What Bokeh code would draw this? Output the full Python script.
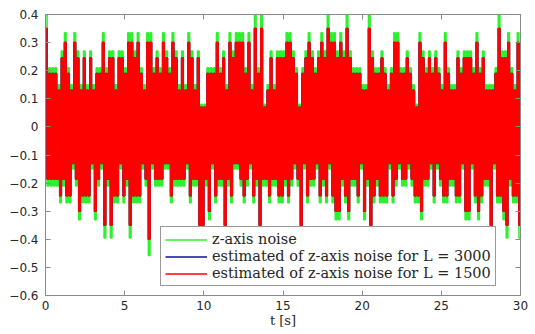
from bokeh.plotting import figure
from bokeh.models import Range1d, LinearAxis, FixedTicker, Legend, LegendItem, ColumnDataSource
from bokeh.embed import file_html
from bokeh.resources import INLINE

# sample spacing of the read-off columns (s)
DT = 0.2

# z-axis noise: upper / lower excursion in each 0.2 s column
green_top = [
    0.40, 0.21, 0.21, 0.21, 0.15, 0.27, 0.335, 0.21, 0.15, 0.335,
    0.27, 0.15, 0.27, 0.15, 0.27, 0.15, 0.21, 0.21, 0.335, 0.21,
    0.27, 0.27, 0.15, 0.27, 0.27, 0.21, 0.335, 0.335, 0.27, 0.335,
    0.21, 0.15, 0.335, 0.335, 0.21, 0.27, 0.21, 0.335, 0.27, 0.21,
    0.335, 0.27, 0.15, 0.27, 0.15, 0.335, 0.27, 0.15, 0.27, 0.08,
    0.08, 0.21, 0.21, 0.21, 0.335, 0.21, 0.27, 0.15, 0.335, 0.27,
    0.335, 0.335, 0.335, 0.21, 0.335, 0.15, 0.40, 0.21, 0.40, 0.08,
    0.15, 0.27, 0.15, 0.27, 0.27, 0.27, 0.335, 0.335, 0.27, 0.21,
    0.08, 0.21, 0.27, 0.335, 0.27, 0.21, 0.27, 0.335, 0.27, 0.40,
    0.335, 0.335, 0.27, 0.335, 0.27, 0.40, 0.27, 0.21, 0.21, 0.21,
    0.15, 0.15, 0.40, 0.27, 0.21, 0.21, 0.27, 0.21, 0.15, 0.21,
    0.335, 0.335, 0.21, 0.21, 0.27, 0.21, 0.15, 0.08, 0.335, 0.27,
    0.21, 0.27, 0.21, 0.27, 0.21, 0.15, 0.335, 0.21, 0.15, 0.15,
    0.27, 0.21, 0.27, 0.27, 0.27, 0.21, 0.335, 0.21, 0.27, 0.15,
    0.15, 0.15, 0.21, 0.40, 0.27, 0.27, 0.335, 0.21, 0.15, 0.335,
]
green_bot = [
    -0.21, -0.21, -0.21, -0.21, -0.27, -0.21, -0.27, -0.27, -0.15, -0.21,
    -0.33, -0.27, -0.27, -0.27, -0.15, -0.33, -0.21, -0.15, -0.395, -0.21,
    -0.395, -0.27, -0.27, -0.15, -0.27, -0.21, -0.395, -0.27, -0.27, -0.27,
    -0.15, -0.21, -0.4575, -0.15, -0.21, -0.21, -0.21, -0.15, -0.15, -0.27,
    -0.21, -0.21, -0.21, -0.21, -0.15, -0.27, -0.21, -0.21, -0.395, -0.395,
    -0.21, -0.33, -0.15, -0.27, -0.21, -0.21, -0.395, -0.21, -0.27, -0.15,
    -0.15, -0.21, -0.27, -0.21, -0.15, -0.27, -0.21, -0.395, -0.21, -0.21,
    -0.27, -0.21, -0.21, -0.27, -0.27, -0.21, -0.27, -0.21, -0.15, -0.21,
    -0.395, -0.15, -0.27, -0.21, -0.21, -0.15, -0.27, -0.21, -0.27, -0.15,
    -0.27, -0.33, -0.33, -0.21, -0.27, -0.33, -0.21, -0.21, -0.27, -0.15,
    -0.33, -0.21, -0.395, -0.27, -0.21, -0.27, -0.27, -0.27, -0.15, -0.27,
    -0.21, -0.15, -0.21, -0.21, -0.15, -0.21, -0.27, -0.27, -0.33, -0.21,
    -0.21, -0.15, -0.27, -0.15, -0.21, -0.27, -0.27, -0.21, -0.21, -0.27,
    -0.27, -0.15, -0.33, -0.33, -0.15, -0.27, -0.33, -0.27, -0.21, -0.21,
    -0.395, -0.15, -0.27, -0.27, -0.33, -0.395, -0.21, -0.27, -0.27, -0.395,
]

# estimated noise for L = 1500 (red)
red_top = [
    0.35, 0.19, 0.19, 0.19, 0.13, 0.245, 0.30, 0.19, 0.13, 0.30,
    0.245, 0.13, 0.245, 0.13, 0.245, 0.13, 0.19, 0.19, 0.30, 0.19,
    0.245, 0.245, 0.13, 0.245, 0.245, 0.19, 0.30, 0.30, 0.245, 0.30,
    0.19, 0.13, 0.30, 0.30, 0.19, 0.245, 0.19, 0.30, 0.245, 0.19,
    0.30, 0.245, 0.13, 0.245, 0.13, 0.30, 0.245, 0.13, 0.245, 0.07,
    0.07, 0.19, 0.19, 0.19, 0.30, 0.19, 0.245, 0.13, 0.30, 0.245,
    0.30, 0.30, 0.30, 0.19, 0.30, 0.13, 0.35, 0.19, 0.35, 0.07,
    0.13, 0.245, 0.13, 0.245, 0.245, 0.245, 0.30, 0.30, 0.245, 0.19,
    0.07, 0.19, 0.245, 0.30, 0.245, 0.19, 0.245, 0.30, 0.245, 0.35,
    0.30, 0.30, 0.245, 0.30, 0.245, 0.35, 0.245, 0.19, 0.19, 0.19,
    0.13, 0.13, 0.35, 0.245, 0.19, 0.19, 0.245, 0.19, 0.13, 0.19,
    0.30, 0.30, 0.19, 0.19, 0.245, 0.19, 0.13, 0.07, 0.30, 0.245,
    0.19, 0.245, 0.19, 0.245, 0.19, 0.13, 0.30, 0.19, 0.13, 0.13,
    0.245, 0.19, 0.245, 0.245, 0.245, 0.19, 0.30, 0.19, 0.245, 0.13,
    0.13, 0.13, 0.19, 0.35, 0.245, 0.245, 0.30, 0.19, 0.13, 0.30,
]
red_bot = [
    -0.185, -0.185, -0.185, -0.185, -0.245, -0.185, -0.245, -0.245, -0.13, -0.185,
    -0.30, -0.245, -0.245, -0.245, -0.13, -0.30, -0.185, -0.13, -0.35, -0.185,
    -0.35, -0.245, -0.245, -0.13, -0.245, -0.185, -0.35, -0.245, -0.245, -0.245,
    -0.13, -0.185, -0.40, -0.13, -0.185, -0.185, -0.185, -0.13, -0.13, -0.245,
    -0.185, -0.185, -0.185, -0.185, -0.13, -0.245, -0.185, -0.185, -0.35, -0.35,
    -0.185, -0.30, -0.13, -0.245, -0.185, -0.185, -0.35, -0.185, -0.245, -0.13,
    -0.13, -0.185, -0.245, -0.185, -0.13, -0.245, -0.185, -0.35, -0.185, -0.185,
    -0.245, -0.185, -0.185, -0.245, -0.245, -0.185, -0.245, -0.185, -0.13, -0.185,
    -0.35, -0.13, -0.245, -0.185, -0.185, -0.13, -0.245, -0.185, -0.245, -0.13,
    -0.245, -0.30, -0.30, -0.185, -0.245, -0.30, -0.185, -0.185, -0.245, -0.13,
    -0.30, -0.185, -0.35, -0.245, -0.185, -0.245, -0.245, -0.245, -0.13, -0.245,
    -0.185, -0.13, -0.185, -0.185, -0.13, -0.185, -0.245, -0.245, -0.30, -0.185,
    -0.185, -0.13, -0.245, -0.13, -0.185, -0.245, -0.245, -0.185, -0.185, -0.245,
    -0.245, -0.13, -0.30, -0.30, -0.13, -0.245, -0.30, -0.245, -0.185, -0.185,
    -0.35, -0.13, -0.245, -0.245, -0.30, -0.35, -0.185, -0.245, -0.245, -0.35,
]

# estimated noise for L = 3000 (blue) – lies under the red trace
blue_top = list(red_top)
blue_bot = list(red_bot)

x_ticks = [0, 5, 10, 15, 20, 25, 30]
y_ticks = [-0.6, -0.5, -0.4, -0.3, -0.2, -0.1, 0, 0.1, 0.2, 0.3, 0.4]

legend_labels = [
    "z-axis noise",
    "estimated of z-axis noise for L = 3000",
    "estimated of z-axis noise for L = 1500",
]


def trace(top, bot):
    xs, ys = [], []
    for k, (a, b) in enumerate(zip(top, bot)):
        t0 = k * DT
        xs += [t0, t0 + DT / 2, t0 + DT / 2, t0 + DT]
        ys += [a, a, b, b]
    return ColumnDataSource(data=dict(x=xs, y=ys))


p = figure(width=535, height=334, output_backend="svg", toolbar_location=None,
           x_range=Range1d(0, 30), y_range=Range1d(-0.6, 0.4),
           min_border_left=45, min_border_right=15, min_border_top=14, min_border_bottom=39)
p.xgrid.visible = False
p.ygrid.visible = False
p.outline_line_color = "#9a9a9a"
p.background_fill_color = "white"
p.border_fill_color = "white"

g = p.line("x", "y", source=trace(green_top, green_bot), line_color="#2ef02e", line_width=1.6)
b = p.line("x", "y", source=trace(blue_top, blue_bot), line_color="#1010a0", line_width=1.6)
r = p.line("x", "y", source=trace(red_top, red_bot), line_color="#ff0000", line_width=1.6)

axis_color = "#8a8a8a"
label_color = "#262626"
for ax in (p.xaxis[0], p.yaxis[0]):
    ax.axis_line_color = axis_color
    ax.major_tick_line_color = axis_color
    ax.minor_tick_line_color = None
    ax.major_tick_in = 5
    ax.major_tick_out = 0
    ax.major_label_text_font = "DejaVu Sans"
    ax.major_label_text_font_size = "12px"
    ax.major_label_text_color = label_color

p.xaxis.ticker = FixedTicker(ticks=x_ticks)
p.yaxis.ticker = FixedTicker(ticks=y_ticks)
p.xaxis.major_label_standoff = 5
p.yaxis.major_label_standoff = 7
p.xaxis.axis_label = "t [s]"
p.xaxis.axis_label_text_font = "DejaVu Serif"
p.xaxis.axis_label_text_font_style = "normal"
p.xaxis.axis_label_text_font_size = "13px"
p.xaxis.axis_label_text_color = label_color
p.xaxis.axis_label_standoff = 0

top_ax = LinearAxis(ticker=FixedTicker(ticks=x_ticks), major_label_text_color=None,
                    axis_line_color=axis_color, major_tick_line_color=axis_color,
                    minor_tick_line_color=None, major_tick_in=5, major_tick_out=0,
                    major_label_standoff=0)
right_ax = LinearAxis(ticker=FixedTicker(ticks=y_ticks), major_label_text_color=None,
                      axis_line_color=axis_color, major_tick_line_color=axis_color,
                      minor_tick_line_color=None, major_tick_in=5, major_tick_out=0,
                      major_label_standoff=0)
p.add_layout(top_ax, "above")
p.add_layout(right_ax, "right")

legend = Legend(items=[LegendItem(label=legend_labels[0], renderers=[g]),
                       LegendItem(label=legend_labels[1], renderers=[b]),
                       LegendItem(label=legend_labels[2], renderers=[r])],
                location=(115, 9))
legend.label_text_font = "DejaVu Serif"
legend.label_text_font_size = "14.5px"
legend.label_text_color = label_color
legend.glyph_width = 42
legend.glyph_height = 15
legend.label_height = 15
legend.label_standoff = 5
legend.spacing = 1
legend.padding = 4
legend.margin = 0
legend.border_line_color = "#333333"
legend.border_line_width = 1
legend.background_fill_color = "white"
legend.background_fill_alpha = 1.0
p.add_layout(legend)

open("out.html", "w").write(file_html(p, INLINE))
